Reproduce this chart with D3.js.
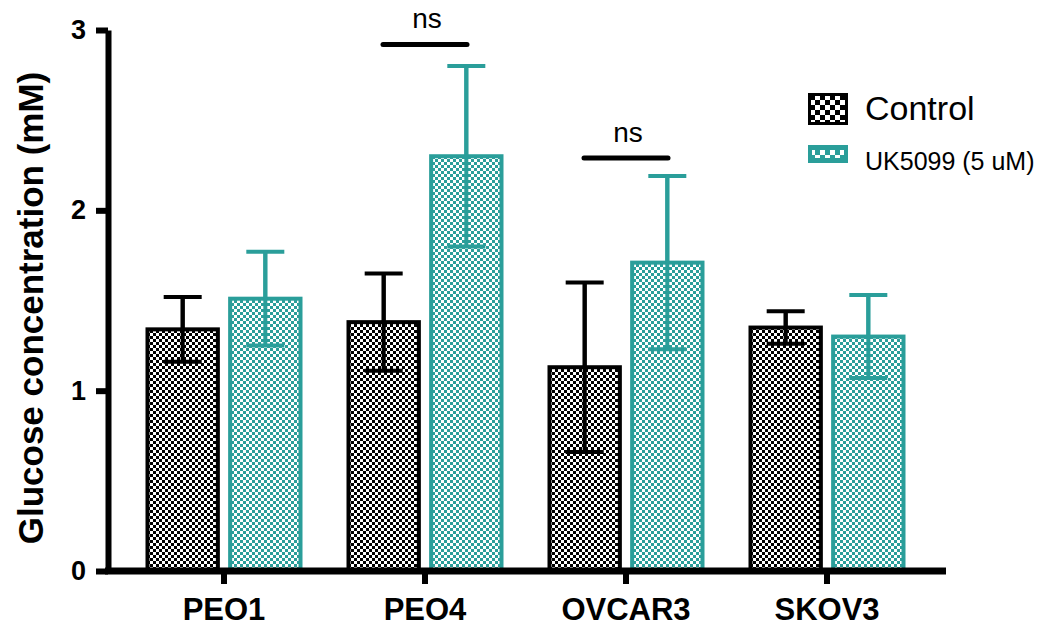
<!doctype html>
<html>
<head>
<meta charset="utf-8">
<script src="https://d3js.org/d3.v7.min.js"></script>
<style>
  body { margin: 0; background: #fff; }
  text { font-family: "Liberation Sans", Arial, sans-serif; }
</style>
</head>
<body>
<svg id="chart"></svg>
<script>
const categories = ["PEO1", "PEO4", "OVCAR3", "SKOV3"];
const seriesNames = ["Control", "UK5099 (5 uM)"];
const controlMean = [1.34, 1.38, 1.13, 1.35];
const controlErr  = [0.18, 0.27, 0.47, 0.09];
const ukMean      = [1.51, 2.30, 1.71, 1.30];
const ukErr       = [0.26, 0.50, 0.48, 0.23];
const yTicks = [0, 1, 2, 3];
// significance brackets: [category, y value, label]
const sigMarks = [["PEO4", 2.92, "ns"], ["OVCAR3", 2.29, "ns"]];

const colors = ["#000000", "#2a9e9a"];
const width = 1049, height = 628;

const svg = d3.select("#chart").attr("width", width).attr("height", height);

// checker patterns
const defs = svg.append("defs");
colors.forEach((c, i) => {
  const p = defs.append("pattern")
    .attr("id", "pat" + i)
    .attr("patternUnits", "userSpaceOnUse")
    .attr("width", 6).attr("height", 6);
  p.append("rect").attr("width", 6).attr("height", 6).attr("fill", "#fff");
  p.append("rect").attr("width", 3).attr("height", 3).attr("fill", c);
  p.append("rect").attr("x", 3).attr("y", 3).attr("width", 3).attr("height", 3).attr("fill", c);
  const q = defs.append("pattern")
    .attr("id", "lpat" + i)
    .attr("patternUnits", "userSpaceOnUse")
    .attr("width", 10).attr("height", 10);
  q.append("rect").attr("width", 10).attr("height", 10).attr("fill", c);
  q.append("rect").attr("width", 5).attr("height", 5).attr("fill", "#fff");
  q.append("rect").attr("x", 5).attr("y", 5).attr("width", 5).attr("height", 5).attr("fill", "#fff");
});

const xScale = d3.scaleBand().domain(categories).range([123.5, 927.5]).padding(0);
const xSub = d3.scaleBand().domain([0, 1]).range([22, 179]).paddingInner(0.1);
const yScale = d3.scaleLinear().domain([0, 3]).range([571, 30]);

const series = [
  categories.map((c, i) => ({ cat: c, mean: controlMean[i], err: controlErr[i] })),
  categories.map((c, i) => ({ cat: c, mean: ukMean[i], err: ukErr[i] }))
];

function whisker(sel, d, si, both) {
  const bw = xSub.bandwidth();
  const cx = xScale(d.cat) + xSub(si) + bw / 2;
  sel.append("line").attr("x1", cx).attr("x2", cx)
    .attr("y1", yScale(d.mean + d.err)).attr("y2", yScale(d.mean - d.err))
    .attr("stroke", colors[si]).attr("stroke-width", 4);
  const caps = both ? [d.mean + d.err, d.mean - d.err] : [d.mean - d.err];
  caps.forEach(v => {
    sel.append("line").attr("x1", cx - 19).attr("x2", cx + 19)
      .attr("y1", yScale(v)).attr("y2", yScale(v))
      .attr("stroke", colors[si]).attr("stroke-width", 4);
  });
}

const bars = svg.append("g");
series.forEach((s, si) => {
  const g = bars.append("g");
  const bw = xSub.bandwidth();
  g.selectAll(".err").data(s).join("g").attr("class", "err")
    .each(function(d) { whisker(d3.select(this), d, si, true); });
  g.selectAll("rect").data(s).join("rect")
    .attr("x", d => xScale(d.cat) + xSub(si) + 2)
    .attr("y", d => yScale(d.mean))
    .attr("width", bw - 4)
    .attr("height", d => yScale(0) - yScale(d.mean))
    .attr("fill", `url(#pat${si})`)
    .attr("stroke", colors[si]).attr("stroke-width", 4);
  // lower part of whisker visible over the bar
  g.selectAll(".errlow").data(s).join("g").attr("class", "errlow")
    .each(function(d) { whisker(d3.select(this), d, si, false); });
});

// y axis
const yAxis = svg.append("g").attr("transform", "translate(108,0)")
  .call(d3.axisLeft(yScale).tickValues(yTicks).tickSize(12).tickSizeOuter(0).tickFormat(d3.format("d")));
yAxis.select(".domain").attr("stroke-width", 6);
yAxis.selectAll(".tick line").attr("stroke-width", 6);
yAxis.selectAll(".tick text").attr("font-size", 27).attr("font-weight", "bold")
  .attr("font-family", "Liberation Sans, Arial, sans-serif").attr("x", -22).attr("fill", "#000");

// x axis
const xAxis = svg.append("g").attr("transform", "translate(0,571)")
  .call(d3.axisBottom(xScale).tickSize(13).tickSizeOuter(0));
xAxis.select(".domain").remove();
xAxis.insert("line", ":first-child").attr("x1", 105).attr("x2", 946)
  .attr("stroke", "#000").attr("stroke-width", 7);
xAxis.selectAll(".tick line").attr("stroke-width", 6);
xAxis.selectAll(".tick text").attr("font-size", 31).attr("font-weight", "bold")
  .attr("font-family", "Liberation Sans, Arial, sans-serif")
  .attr("y", 49).attr("dy", 0).attr("fill", "#000");

// y label
svg.append("text")
  .attr("transform", `translate(43,308) rotate(-90)`)
  .attr("text-anchor", "middle")
  .attr("font-size", 35).attr("font-weight", "bold")
  .text("Glucose concentration (mM)");

// significance marks
sigMarks.forEach(([cat, v, lab]) => {
  const cx = xScale(cat) + xScale.bandwidth() / 2;
  svg.append("line").attr("x1", cx - 42).attr("x2", cx + 42)
    .attr("y1", yScale(v)).attr("y2", yScale(v))
    .attr("stroke", "#000").attr("stroke-width", 5).attr("stroke-linecap", "round");
  svg.append("text").attr("x", cx + 2).attr("y", yScale(v) - 16)
    .attr("text-anchor", "middle").attr("font-size", 28).text(lab);
});

// legend
const legend = svg.append("g");
legend.append("rect").attr("x", 809.5).attr("y", 94.5).attr("width", 37).attr("height", 29)
  .attr("fill", "url(#lpat0)").attr("stroke", "#000").attr("stroke-width", 3);
legend.append("text").attr("x", 865).attr("y", 120).attr("font-size", 34).text(seriesNames[0]);
legend.append("rect").attr("x", 808).attr("y", 145).attr("width", 40).attr("height", 18)
  .attr("fill", colors[1]);
legend.append("rect").attr("x", 812).attr("y", 150).attr("width", 32).attr("height", 8)
  .attr("fill", "url(#lpat1)");
legend.append("text").attr("x", 865).attr("y", 170).attr("font-size", 25).text(seriesNames[1]);
</script>
</body>
</html>
